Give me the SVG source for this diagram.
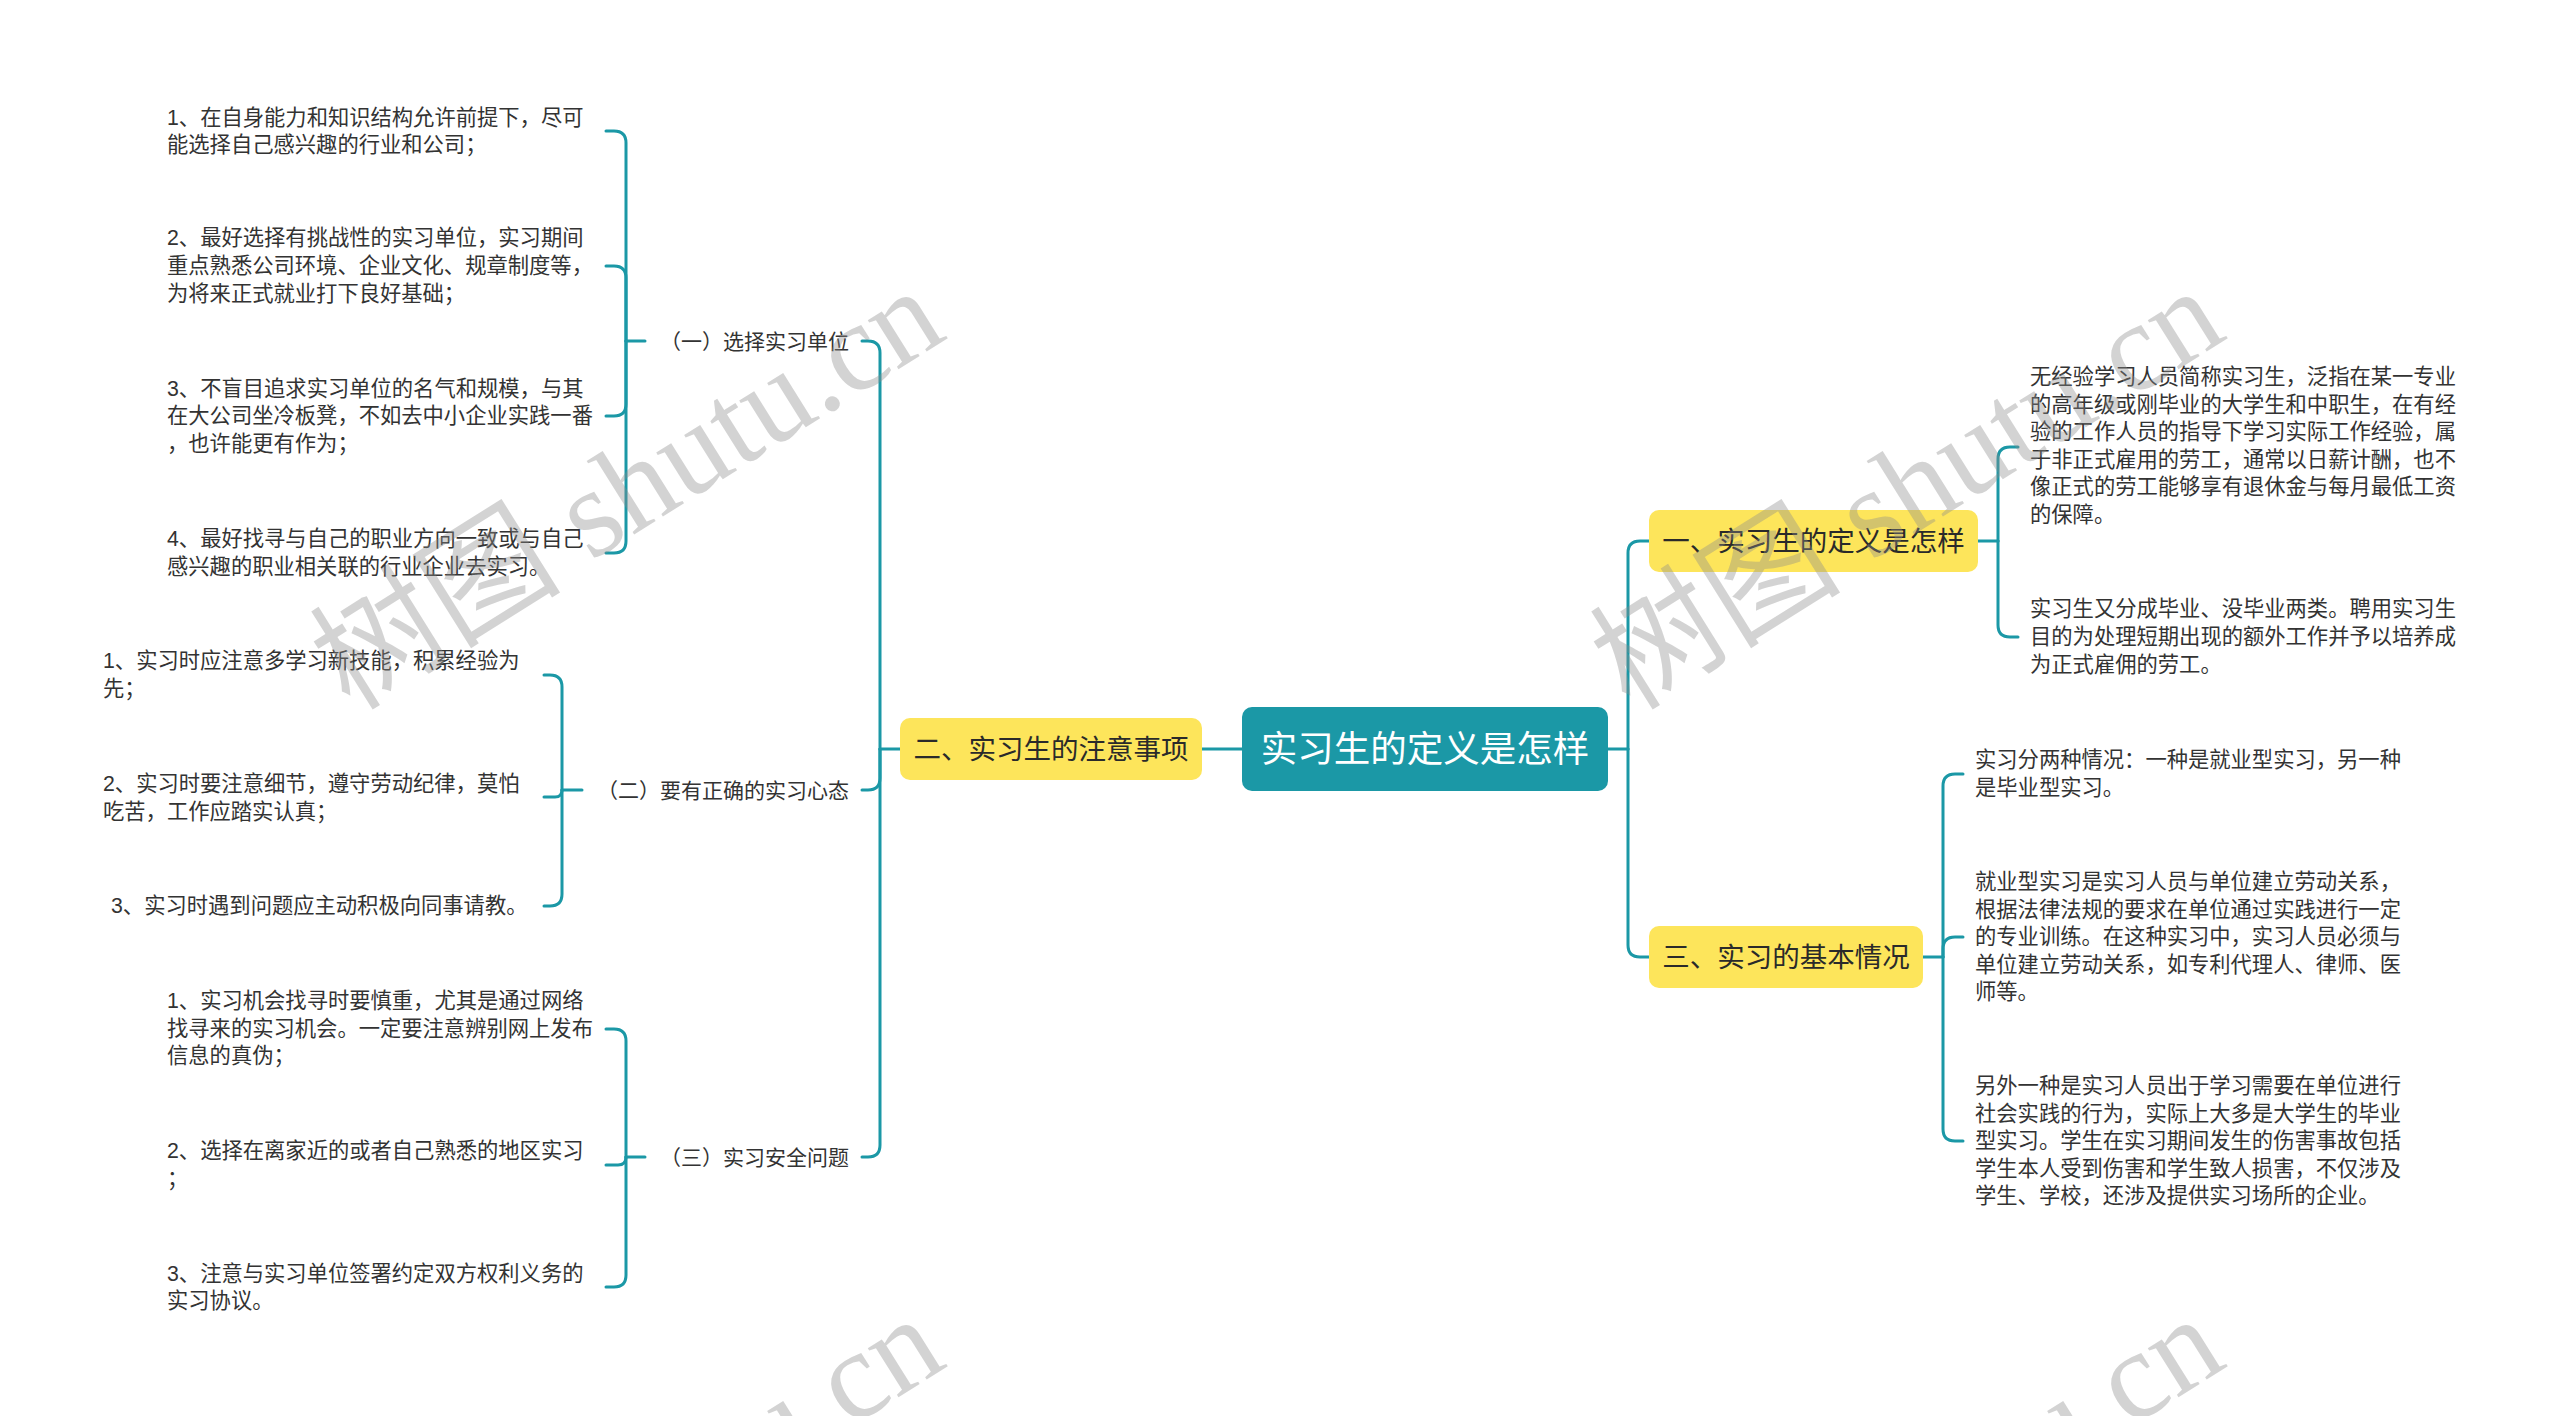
<svg xmlns="http://www.w3.org/2000/svg" width="2560" height="1416" viewBox="0 0 2560 1416">
<style>
.t{font-family:"Liberation Sans","Noto Sans CJK SC",sans-serif;font-size:21.3px;fill:#333;dominant-baseline:central}
.s{font-family:"Liberation Sans","Noto Sans CJK SC",sans-serif;font-size:21px;fill:#333;dominant-baseline:central;text-anchor:end}
.y{fill:#fde55b}
.yt{font-family:"Liberation Sans","Noto Sans CJK SC",sans-serif;font-size:27.5px;fill:#2a2a2a;dominant-baseline:central;text-anchor:middle}
.c{fill:#1b98a6}
.ct{font-family:"Liberation Sans","Noto Sans CJK SC",sans-serif;font-size:36.5px;fill:#fff;dominant-baseline:central;text-anchor:middle}
.ln{fill:none;stroke:#1b98a6;stroke-width:3;stroke-linecap:round}
.wm{font-family:"Liberation Serif","Noto Sans CJK SC",serif;font-size:126px;fill:#8c8c8c;fill-opacity:0.38}
</style>
<rect width="2560" height="1416" fill="#fff"/>
<g id="connectors" class="ln">
<path d="M1242,749 H1202"/>
<path d="M1608,749 H1628"/>
<path d="M1628,749 V553 Q1628,541 1640,541 H1649"/>
<path d="M1628,749 V945 Q1628,957 1640,957 H1649"/>
<path d="M900,749 H880"/>
<path d="M880,749 V353 Q880,341 868,341 H862"/>
<path d="M880,749 V778 Q880,790 868,790 H862"/>
<path d="M880,749 V1145 Q880,1157 868,1157 H862"/>
<path d="M645,341 H626"/>
<path d="M626,341 V143 Q626,131 614,131 H606"/>
<path d="M626,341 V278 Q626,266 614,266 H606"/>
<path d="M626,341 V404 Q626,416 614,416 H606"/>
<path d="M626,341 V541 Q626,553 614,553 H606"/>
<path d="M582,790 H562"/>
<path d="M562,790 V687 Q562,675 550,675 H544"/>
<path d="M562,790 Q562,797 555,797 H544"/>
<path d="M562,790 V894 Q562,906 550,906 H544"/>
<path d="M645,1157 H626"/>
<path d="M626,1157 V1041 Q626,1029 614,1029 H606"/>
<path d="M626,1157 Q626,1165 618,1165 H606"/>
<path d="M626,1157 V1275 Q626,1287 614,1287 H606"/>
<path d="M1978,541 H1998"/>
<path d="M1998,541 V459 Q1998,447 2010,447 H2018"/>
<path d="M1998,541 V625 Q1998,637 2010,637 H2018"/>
<path d="M1923,957 H1943"/>
<path d="M1943,957 V786 Q1943,774 1955,774 H1963"/>
<path d="M1943,957 V949 Q1943,937 1955,937 H1963"/>
<path d="M1943,957 V1129 Q1943,1141 1955,1141 H1963"/>
</g>
<g id="root">
<rect class="c" x="1242" y="707" width="366" height="84" rx="10"/>
<text class="ct" x="1425" y="749">实习生的定义是怎样</text>
</g>
<g id="n2">
<rect class="y" x="900" y="718" width="302" height="62" rx="10"/>
<text class="yt" x="1051" y="749">二、实习生的注意事项</text>
</g>
<g id="n1">
<rect class="y" x="1649" y="510" width="329" height="62" rx="10"/>
<text class="yt" x="1813.5" y="541">一、实习生的定义是怎样</text>
</g>
<g id="n3">
<rect class="y" x="1649" y="926" width="274" height="62" rx="10"/>
<text class="yt" x="1786" y="957">三、实习的基本情况</text>
</g>
<g id="s1"><text class="s" x="849" y="341">（一）选择实习单位</text></g>
<g id="s2"><text class="s" x="849" y="790">（二）要有正确的实习心态</text></g>
<g id="s3"><text class="s" x="849" y="1157">（三）实习安全问题</text></g>
<g id="s1-1"><text class="t" x="167" y="117.5">1、在自身能力和知识结构允许前提下，尽可<tspan x="167" dy="27.8">能选择自己感兴趣的行业和公司；</tspan></text></g>
<g id="s1-2"><text class="t" x="167" y="238.4">2、最好选择有挑战性的实习单位，实习期间<tspan x="167" dy="27.8">重点熟悉公司环境、企业文化、规章制度等，</tspan><tspan x="167" dy="27.8">为将来正式就业打下良好基础；</tspan></text></g>
<g id="s1-3"><text class="t" x="167" y="388.6">3、不盲目追求实习单位的名气和规模，与其<tspan x="167" dy="27.8">在大公司坐冷板凳，不如去中小企业实践一番</tspan><tspan x="167" dy="27.8">，也许能更有作为；</tspan></text></g>
<g id="s1-4"><text class="t" x="167" y="538.8">4、最好找寻与自己的职业方向一致或与自己<tspan x="167" dy="27.8">感兴趣的职业相关联的行业企业去实习。</tspan></text></g>
<g id="s2-1"><text class="t" x="103" y="661.2">1、实习时应注意多学习新技能，积累经验为<tspan x="103" dy="27.8">先；</tspan></text></g>
<g id="s2-2"><text class="t" x="103" y="783.7">2、实习时要注意细节，遵守劳动纪律，莫怕<tspan x="103" dy="27.8">吃苦，工作应踏实认真；</tspan></text></g>
<g id="s2-3"><text class="t" x="111" y="906.1">3、实习时遇到问题应主动积极向同事请教。</text></g>
<g id="s3-1"><text class="t" x="167" y="1000.8">1、实习机会找寻时要慎重，尤其是通过网络<tspan x="167" dy="27.8">找寻来的实习机会。一定要注意辨别网上发布</tspan><tspan x="167" dy="27.8">信息的真伪；</tspan></text></g>
<g id="s3-2"><text class="t" x="167" y="1151">2、选择在离家近的或者自己熟悉的地区实习<tspan x="167" dy="27.8">；</tspan></text></g>
<g id="s3-3"><text class="t" x="167" y="1273.5">3、注意与实习单位签署约定双方权利义务的<tspan x="167" dy="27.8">实习协议。</tspan></text></g>
<g id="n1-1"><text class="t" x="2030" y="377">无经验学习人员简称实习生，泛指在某一专业<tspan x="2030" dy="27.5">的高年级或刚毕业的大学生和中职生，在有经</tspan><tspan x="2030" dy="27.5">验的工作人员的指导下学习实际工作经验，属</tspan><tspan x="2030" dy="27.5">于非正式雇用的劳工，通常以日薪计酬，也不</tspan><tspan x="2030" dy="27.5">像正式的劳工能够享有退休金与每月最低工资</tspan><tspan x="2030" dy="27.5">的保障。</tspan></text></g>
<g id="n1-2"><text class="t" x="2030" y="609">实习生又分成毕业、没毕业两类。聘用实习生<tspan x="2030" dy="27.8">目的为处理短期出现的额外工作并予以培养成</tspan><tspan x="2030" dy="27.8">为正式雇佣的劳工。</tspan></text></g>
<g id="n3-1"><text class="t" x="1975" y="760">实习分两种情况：一种是就业型实习，另一种<tspan x="1975" dy="27.8">是毕业型实习。</tspan></text></g>
<g id="n3-2"><text class="t" x="1975" y="882">就业型实习是实习人员与单位建立劳动关系，<tspan x="1975" dy="27.5">根据法律法规的要求在单位通过实践进行一定</tspan><tspan x="1975" dy="27.5">的专业训练。在这种实习中，实习人员必须与</tspan><tspan x="1975" dy="27.5">单位建立劳动关系，如专利代理人、律师、医</tspan><tspan x="1975" dy="27.5">师等。</tspan></text></g>
<g id="n3-3"><text class="t" x="1975" y="1086">另外一种是实习人员出于学习需要在单位进行<tspan x="1975" dy="27.5">社会实践的行为，实际上大多是大学生的毕业</tspan><tspan x="1975" dy="27.5">型实习。学生在实习期间发生的伤害事故包括</tspan><tspan x="1975" dy="27.5">学生本人受到伤害和学生致人损害，不仅涉及</tspan><tspan x="1975" dy="27.5">学生、学校，还涉及提供实习场所的企业。</tspan></text></g>
<g id="watermarks">
<text class="wm" transform="translate(350,712) rotate(-32)">树图 shutu.cn</text>
<text class="wm" transform="translate(1630,712) rotate(-32)">树图 shutu.cn</text>
<text class="wm" transform="translate(350,1740) rotate(-32)">树图 shutu.cn</text>
<text class="wm" transform="translate(1630,1740) rotate(-32)">树图 shutu.cn</text>
</g>
</svg>
